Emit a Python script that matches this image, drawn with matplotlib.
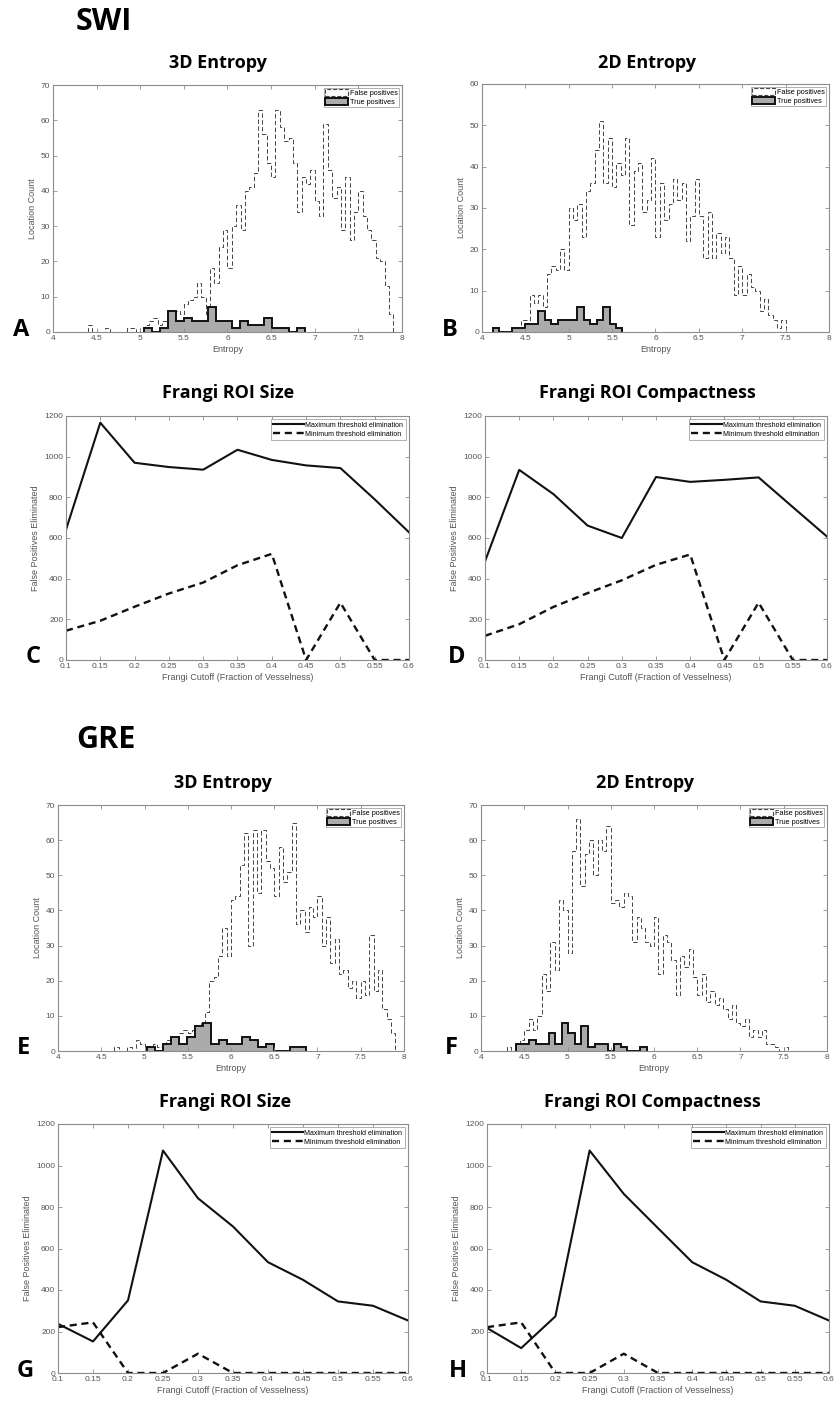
import numpy as np
import matplotlib
matplotlib.use("Agg")
import matplotlib.pyplot as plt
from matplotlib.patches import Patch

plt.rcParams['font.family'] = ['Liberation Sans', 'DejaVu Sans']

W, H = 837, 1403

# ---------------------------------------------------------------------------- #
# Histogram data (bin start, bin width, counts)
# SWI 3D entropy
a_fp_start, a_fp_width = 4.40, 0.05
a_fp = [2, 0, 0, 0, 1, 0, 0, 0, 0, 1, 1, 0, 1, 2, 3, 4, 2, 3, 3, 5,
        6, 5, 8, 9, 10, 14, 10, 5, 18, 14, 24, 29, 18, 30, 36, 29, 40, 41, 45, 63,
        56, 48, 44, 63, 58, 54, 55, 48, 34, 44, 42, 46, 37, 33, 59, 46, 38, 41, 29, 44,
        26, 34, 40, 33, 29, 26, 21, 20, 13, 5]
a_tp_start, a_tp_width = 5.045, 0.0919
a_tp = [1, 0, 1, 6, 3, 4, 3, 3, 7, 3, 3, 1, 3, 2, 2, 4, 1, 1, 0, 1]

# SWI 2D entropy
b_fp_start, b_fp_width = 4.45, 0.05
b_fp = [3, 3, 9, 7, 9, 6, 14, 16, 15, 20, 15, 30, 27, 31, 23, 34, 36, 44, 51, 36,
        47, 35, 41, 38, 47, 26, 39, 41, 29, 32, 42, 23, 36, 27, 31, 37, 32, 36, 22, 28,
        37, 28, 18, 29, 18, 24, 19, 23, 18, 9, 16, 9, 14, 11, 10, 5, 8, 4, 3, 1, 3]
b_tp_start, b_tp_width = 4.127, 0.0746
b_tp = [1, 0, 0, 1, 1, 2, 2, 5, 3, 2, 3, 3, 3, 6, 3, 2, 3, 6, 2, 1]

# GRE 3D entropy
e_fp_start, e_fp_width = 4.65, 0.05
e_fp = [1, 0, 0, 1, 0, 3, 2, 1, 0, 2, 1, 0, 3, 2, 3, 5, 6, 5, 6, 7,
        8, 11, 20, 21, 27, 35, 27, 43, 44, 53, 62, 30, 63, 45, 63, 54, 52, 44, 58, 48,
        51, 65, 36, 40, 34, 41, 38, 44, 30, 38, 25, 32, 22, 23, 18, 20, 15, 20, 16, 33,
        17, 23, 12, 9, 5]
e_tp_start, e_tp_width = 5.03, 0.0919
e_tp = [1, 0, 2, 4, 2, 4, 7, 8, 2, 3, 2, 2, 4, 3, 1, 2, 0, 0, 1, 1]

# GRE 2D entropy
f_fp_start, f_fp_width = 4.30, 0.05
f_fp = [1, 0, 2, 3, 6, 9, 6, 10, 22, 17, 31, 23, 43, 40, 28, 57, 66, 47, 56, 60,
        50, 60, 57, 64, 42, 43, 41, 45, 44, 31, 38, 35, 31, 30, 38, 22, 33, 31, 26, 16,
        27, 24, 29, 21, 16, 22, 14, 17, 13, 15, 12, 9, 13, 8, 7, 9, 4, 6, 4, 6,
        2, 2, 1, 0, 1]
f_tp_start, f_tp_width = 4.405, 0.0756
f_tp = [2, 2, 3, 2, 2, 5, 2, 8, 5, 2, 7, 1, 2, 2, 0, 2, 1, 0, 0, 1]

# ---------------------------------------------------------------------------- #
# Frangi cutoff line data
cutoff = [0.1, 0.15, 0.2, 0.25, 0.3, 0.35, 0.4, 0.45, 0.5, 0.55, 0.6]
cutoff_labels = ['0.1', '0.15', '0.2', '0.25', '0.3', '0.35', '0.4', '0.45', '0.5', '0.55', '0.6']

c_max = [641, 1167, 970, 949, 936, 1034, 984, 957, 944, 790, 628]
c_min = [144, 193, 262, 327, 381, 466, 522, 0, 282, 0, 0]
d_max = [485, 935, 816, 661, 600, 900, 876, 886, 898, 752, 607]
d_min = [119, 176, 261, 329, 392, 468, 519, 0, 282, 0, 0]
g_max = [237, 152, 350, 1072, 842, 706, 534, 449, 345, 324, 253]
g_min = [221, 244, 0, 0, 93, 0, 0, 0, 0, 0, 0]
h_max = [217, 120, 273, 1072, 863, 698, 534, 449, 345, 324, 253]
h_min = [221, 244, 0, 0, 93, 0, 0, 0, 0, 0, 0]

# ---------------------------------------------------------------------------- #
fig = plt.figure(figsize=(W / 100, H / 100), dpi=100)

GRID = '#8c8c8c'
TXT = '#555555'
TP_FILL = '#ababab'


def add_ax(left, right, top, bottom):
    return fig.add_axes([left / W, 1 - bottom / H, (right - left) / W, (bottom - top) / H])


def style(ax):
    for s in ax.spines.values():
        s.set_color(GRID)
        s.set_linewidth(0.8)
    ax.tick_params(direction='in', length=3, width=0.6, color=GRID, labelcolor=TXT,
                   labelsize=6, top=True, right=True, pad=2)


def head(x, y, s, size, ha='center'):
    fig.text(x / W, 1 - y / H, s, ha=ha, va='center', fontsize=size,
             fontweight='bold', family=['Open Sans', 'DejaVu Sans'])


def hist_panel(ax, fp_start, fp_width, fp, tp_start, tp_width, tp, ymax):
    fp_edges = fp_start + fp_width * np.arange(len(fp) + 1)
    tp_edges = tp_start + tp_width * np.arange(len(tp) + 1)
    ax.stairs(fp, fp_edges, color='#444444', lw=0.7, ls=(0, (4.5, 2.5)))
    ax.stairs(tp, tp_edges, fill=True, color=TP_FILL)
    ax.stairs(tp, tp_edges, color='#111111', lw=1.4, baseline=0)
    ax.set_xlim(4, 8)
    ax.set_ylim(0, ymax)
    ax.set_xticks(np.arange(4, 8.01, 0.5))
    ax.set_xticklabels(['4', '4.5', '5', '5.5', '6', '6.5', '7', '7.5', '8'])
    ax.set_yticks(np.arange(0, ymax + 1, 10))
    ax.set_xlabel('Entropy', fontsize=6.5, color=TXT, labelpad=2)
    ax.set_ylabel('Location Count', fontsize=6.5, color=TXT, labelpad=3)
    style(ax)
    handles = [Patch(facecolor='white', edgecolor='#444444', ls='--', lw=0.8),
               Patch(facecolor=TP_FILL, edgecolor='#111111', lw=1.4)]
    leg = ax.legend(handles, ['False positives', 'True positives'], loc='upper right',
                    fontsize=5.2, frameon=True, fancybox=False, borderpad=0.2,
                    handlelength=3.2, handleheight=1.1, handletextpad=0.2,
                    labelspacing=0.1, borderaxespad=0.4)
    leg.get_frame().set_edgecolor(GRID)
    leg.get_frame().set_linewidth(0.6)


def line_panel(ax, vmax, vmin):
    ax.plot(cutoff, vmax, color='#111111', lw=1.5, label='Maximum threshold elimination')
    ax.plot(cutoff, vmin, color='#111111', lw=1.7, ls=(0, (3, 2)),
            label='Minimum threshold elimination')
    ax.set_xlim(0.1, 0.6)
    ax.set_ylim(0, 1200)
    ax.set_xticks(cutoff)
    ax.set_xticklabels(cutoff_labels)
    ax.set_yticks(np.arange(0, 1201, 200))
    ax.set_xlabel('Frangi Cutoff (Fraction of Vesselness)', fontsize=6.5, color=TXT, labelpad=2)
    ax.set_ylabel('False Positives Eliminated', fontsize=6.5, color=TXT, labelpad=3)
    style(ax)
    leg = ax.legend(loc='upper right', fontsize=5, frameon=True, fancybox=False,
                    borderpad=0.3, handlelength=4.5, handletextpad=0.2,
                    labelspacing=0.3, borderaxespad=0.5)
    leg.get_frame().set_edgecolor(GRID)
    leg.get_frame().set_linewidth(0.6)


# SWI block
ax_a = add_ax(53, 402, 85, 332)
hist_panel(ax_a, a_fp_start, a_fp_width, a_fp, a_tp_start, a_tp_width, a_tp, 70)
ax_b = add_ax(482, 829, 84, 332)
hist_panel(ax_b, b_fp_start, b_fp_width, b_fp, b_tp_start, b_tp_width, b_tp, 60)
ax_c = add_ax(66, 409, 416, 660)
line_panel(ax_c, c_max, c_min)
ax_d = add_ax(485, 827, 416, 660)
line_panel(ax_d, d_max, d_min)

# GRE block
ax_e = add_ax(58, 404, 805, 1051)
hist_panel(ax_e, e_fp_start, e_fp_width, e_fp, e_tp_start, e_tp_width, e_tp, 70)
ax_f = add_ax(481, 827, 805, 1051)
hist_panel(ax_f, f_fp_start, f_fp_width, f_fp, f_tp_start, f_tp_width, f_tp, 70)
ax_g = add_ax(58, 408, 1124, 1373)
line_panel(ax_g, g_max, g_min)
ax_h = add_ax(487, 829, 1124, 1373)
line_panel(ax_h, h_max, h_min)

# section headers, panel titles and letters
head(104, 22, 'SWI', 22)
head(106, 740, 'GRE', 22)

head(218, 63, '3D Entropy', 13)
head(647, 63, '2D Entropy', 13)
head(228, 393, 'Frangi ROI Size', 13)
head(647, 393, 'Frangi ROI Compactness', 13)
head(223, 783, '3D Entropy', 13)
head(645, 783, '2D Entropy', 13)
head(225, 1102, 'Frangi ROI Size', 13)
head(652, 1102, 'Frangi ROI Compactness', 13)

for x, y, s in [(21, 330, 'A'), (450, 330, 'B'), (33, 657, 'C'), (457, 657, 'D'),
                (24, 1048, 'E'), (451, 1048, 'F'), (25, 1371, 'G'), (458, 1371, 'H')]:
    head(x, y, s, 17)

fig.savefig('out.png', dpi=100)
